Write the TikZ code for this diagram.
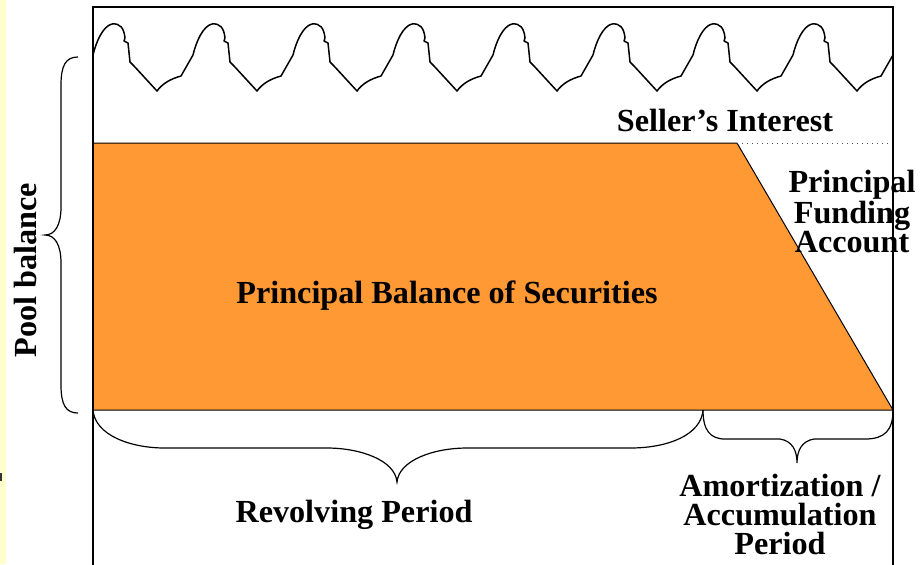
\documentclass[tikz,border=0pt]{standalone}
\usepackage{fontspec}
\setmainfont{Liberation Serif}
\definecolor{poolorange}{RGB}{255,153,51}
\definecolor{stripyellow}{RGB}{255,255,204}

\begin{document}
\begin{tikzpicture}[x=0.5pt, y=-0.5pt,
        lbl/.style={font=\fontsize{16.1}{14.5}\selectfont\bfseries, inner sep=0pt},
        brace/.style={line width=0.6pt},
        wave/.style={line width=0.75pt, line join=round}]
    \useasboundingbox (0,0) rectangle (924,564);
    \fill[stripyellow] (0,0) rectangle (6,564);
    \draw[line width=1pt, black!80] (1,473) -- (1,481);

    % securities and seller's interest
    \coordinate (tl) at (93,143);
    \coordinate (tr) at (737,143);
    \coordinate (br) at (893,410);
    \coordinate (bl) at (93,410);
    \coordinate (split) at (703,410);
    \coordinate (dotend) at (893,143);
    \filldraw[fill=poolorange, draw=black, line width=0.5pt] (tl) -- (tr) -- (br) -- (bl) -- cycle;
    \draw[dotted, line width=0.5pt, black!70] (tr) -- (dotend);

    \draw[line width=1pt] (93,566) -- (93,7) -- (893,7) -- (893,566);

    % pool balance waves
    \foreach \k in {0,...,7}
        \draw[wave, shift={(\k*100,0)}] (93,55)
            .. controls (96,42) and (103,26) .. (112,24)
            .. controls (120,23) and (124,28) .. (125,38)
            -- (124,41) -- (128,43) -- (130,62) -- (134,66) -- (157,91)
            .. controls (162,84) and (170,79) .. (181,76)
            -- (193,55);

    % braces
    \draw[brace] (78,57) .. controls (66,57) and (61,65) .. (61,85) -- (61,207)
        .. controls (61,225) and (55,235) .. (45,235)
        .. controls (55,235) and (61,245) .. (61,263) -- (61,385)
        .. controls (61,405) and (66,413) .. (78,413);
    \draw[brace] (bl) .. controls (95,435) and (130,448) .. (165,448) -- (327,448)
        .. controls (360,448) and (395,460) .. (397,482)
        .. controls (399,460) and (434,448) .. (467,448) -- (630,448)
        .. controls (668,448) and (701,435) .. (split);
    \draw[brace] (split) .. controls (703,430) and (710,439) .. (725,439) -- (780,439)
        .. controls (792,441) and (797,450) .. (797,463)
        .. controls (797,450) and (802,441) .. (814,439) -- (865,439)
        .. controls (885,439) and (893,430) .. (br);

    % labels
    \node[lbl, anchor=base] (seller) at (725,131) {Seller's Interest};
    \node[lbl, anchor=base] (balance) at (447,303) {Principal Balance of Securities};
    \node[lbl, anchor=north, align=center] (funding) at (852,170) {Principal\\Funding\\Account};
    \node[lbl, anchor=base] (revolving) at (354,522) {Revolving Period};
    \node[lbl, anchor=north, align=center] (amort) at (780,474) {Amortization /\\Accumulation\\Period};
    \node[lbl, rotate=90] (pool) at (25,270) {Pool balance};
\end{tikzpicture}
\end{document}
